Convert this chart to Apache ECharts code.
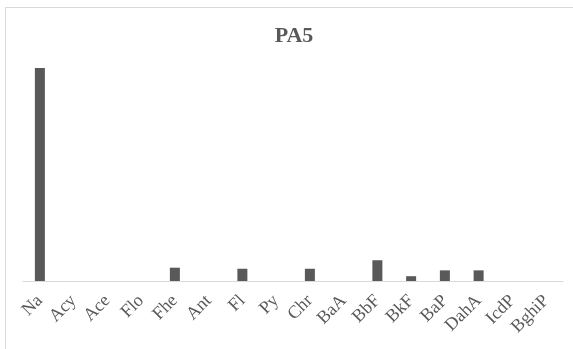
<!DOCTYPE html>
<html>
<head>
<meta charset="utf-8">
<script src="https://cdn.jsdelivr.net/npm/echarts@6/dist/echarts.min.js"></script>
<style>
  html, body { margin: 0; padding: 0; background: #fff; }
  #wrap { position: relative; width: 573px; height: 349px; overflow: hidden; }
  #chart { position: absolute; left: 5px; top: 7px; width: 600px; height: 360px; border: 1px solid #d9d9d9; }
</style>
</head>
<body>
<div id="wrap"><div id="chart"></div></div>
<script>
// PAH compounds and PA5 values
const categories = ['Na', 'Acy', 'Ace', 'Flo', 'Fhe', 'Ant', 'Fl', 'Py', 'Chr', 'BaA', 'BbF', 'BkF', 'BaP', 'DahA', 'IcdP', 'BghiP'];
const pa5Values = [40, 0, 0, 0, 2.5, 0, 2.3, 0, 2.3, 0, 3.9, 0.9, 2.0, 2.0, 0, 0];

const myChart = echarts.init(document.getElementById('chart'));
myChart.setOption({
  animation: false,
  title: {
    text: 'PA5',
    left: 283,
    top: 12,
    textAlign: 'center',
    textStyle: { fontFamily: 'Liberation Serif', fontSize: 22, fontWeight: 'bold', color: '#595959' }
  },
  grid: { left: 17, right: 43, top: 60, bottom: 87 },
  xAxis: {
    type: 'category',
    data: categories,
    axisLine: { lineStyle: { color: '#d9d9d9' } },
    axisTick: { show: false },
    axisLabel: {
      rotate: 45,
      interval: 0,
      margin: 17,
      color: '#595959',
      fontFamily: 'Liberation Serif',
      fontSize: 18
    }
  },
  yAxis: {
    type: 'value',
    min: 0,
    max: 40,
    show: false,
    splitLine: { show: false }
  },
  series: [{
    type: 'bar',
    data: pa5Values,
    barWidth: 10,
    itemStyle: { color: '#595959' }
  }]
});
</script>
</body>
</html>
